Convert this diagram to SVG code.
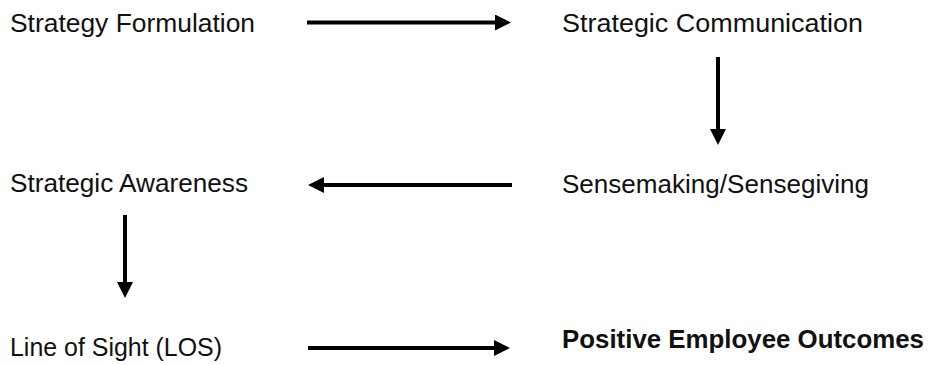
<svg xmlns="http://www.w3.org/2000/svg" width="930" height="365" viewBox="0 0 930 365">
<defs>
<style>
.t{font-family:"Liberation Sans",Arial,sans-serif;font-size:26.5px;fill:#111}
.b{font-weight:bold;font-size:25.5px}
.c{stroke:#000;stroke-width:4;fill:none}
</style>
<marker id="ah" markerUnits="userSpaceOnUse" markerWidth="16" markerHeight="16" refX="0" refY="8" orient="auto">
<path d="M0,0 L16,8 L0,16 Z" fill="#000"/>
</marker>
</defs>
<rect width="930" height="365" fill="#fff"/>
<g id="n1"><text class="t" x="10" y="32" textLength="245" lengthAdjust="spacingAndGlyphs">Strategy Formulation</text></g>
<g id="n2"><text class="t" x="562" y="32" textLength="301" lengthAdjust="spacingAndGlyphs">Strategic Communication</text></g>
<g id="n3"><text class="t" x="562" y="193" textLength="307" lengthAdjust="spacingAndGlyphs">Sensemaking/Sensegiving</text></g>
<g id="n4"><text class="t" x="10" y="192" textLength="238" lengthAdjust="spacingAndGlyphs">Strategic Awareness</text></g>
<g id="n5"><text class="t" x="10" y="356" textLength="212" lengthAdjust="spacingAndGlyphs">Line of Sight (LOS)</text></g>
<g id="n6"><text class="t b" x="562" y="348" textLength="362" lengthAdjust="spacingAndGlyphs">Positive Employee Outcomes</text></g>
<g id="connectors">
<line class="c" x1="307" y1="22.5" x2="495" y2="22.5" marker-end="url(#ah)"/>
<line class="c" x1="718" y1="57" x2="718" y2="129" marker-end="url(#ah)"/>
<line class="c" x1="512" y1="185" x2="324" y2="185" marker-end="url(#ah)"/>
<line class="c" x1="125" y1="215" x2="125" y2="282" marker-end="url(#ah)"/>
<line class="c" x1="308" y1="348" x2="494" y2="348" marker-end="url(#ah)"/>
</g>
</svg>
